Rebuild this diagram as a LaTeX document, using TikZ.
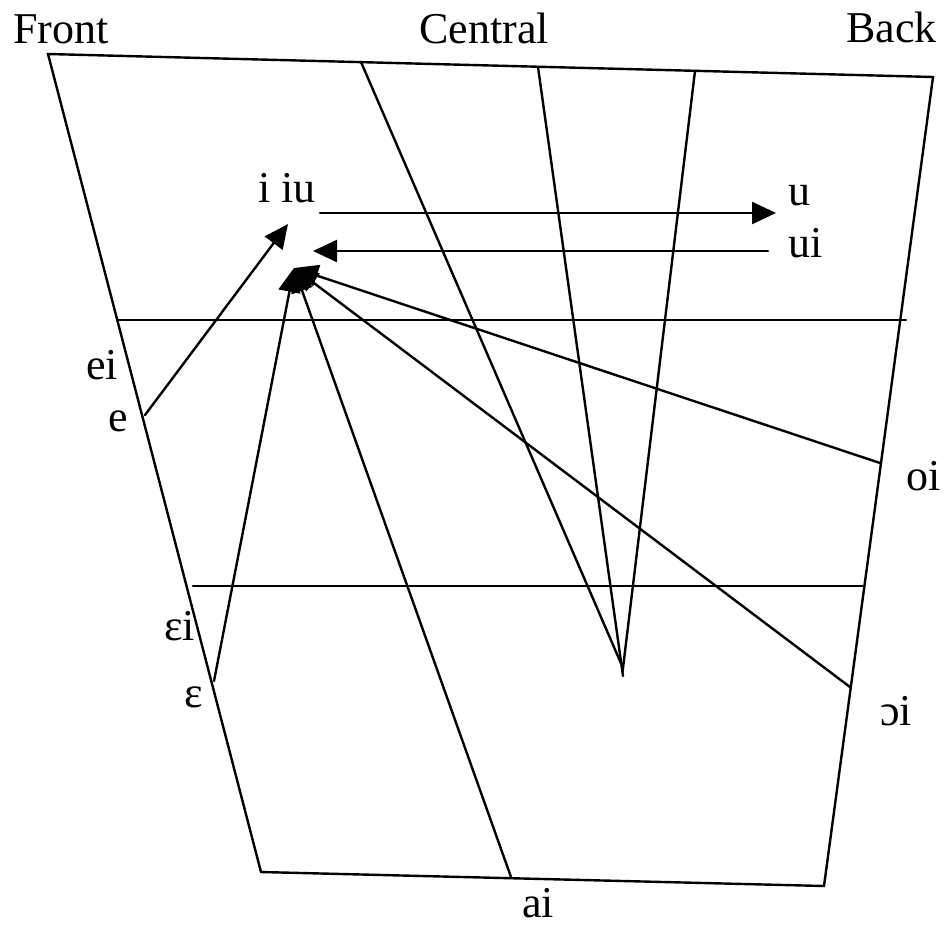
\documentclass[tikz,border=0pt]{standalone}
\usepackage{fontspec}
\setmainfont{Liberation Serif}
\usepackage{tikz}
\usetikzlibrary{arrows.meta}
\tikzset{
  lbl/.style={inner sep=0pt,font=\fontsize{44}{50}\selectfont},
  ln/.style={line width=2.4pt,line cap=round},
  fl/.style={ln,-{Triangle[length=24pt,width=22pt]}},
}
\begin{document}
\begin{tikzpicture}[x=1pt,y=-1pt]
  \useasboundingbox (0,0) rectangle (944,929);
  \coordinate (tl) at (48,54);   \coordinate (tr) at (933,77);
  \coordinate (br) at (824,886); \coordinate (bl) at (261,872);
  \coordinate (c1) at (361,62);  \coordinate (c2) at (538,67);
  \coordinate (c3) at (695,71);  \coordinate (v) at (623,668);
  \coordinate (v2) at (623,676);
  \coordinate (h1a) at (118,320); \coordinate (h1b) at (906,320);
  \coordinate (h2a) at (193,586); \coordinate (h2b) at (863,586);
  \coordinate (pe) at (145,415);  \coordinate (peps) at (214,681);
  \coordinate (poi) at (880,463); \coordinate (popi) at (850,687);
  \coordinate (pai) at (511,877); \coordinate (hub) at (294,268);
  \coordinate (etip) at (288,224);
  \coordinate (ua) at (320,213);  \coordinate (ub) at (776,213);
  \coordinate (uia) at (768,251); \coordinate (uib) at (313,251);

  \node[lbl,anchor=base west] (front) at (13,43) {Front};
  \node[lbl,anchor=base] (central) at (484,43) {Central};
  \node[lbl,anchor=base east] (back) at (937,42) {Back};
  \node[lbl,anchor=base west] (iiu) at (258,202) {i iu};
  \node[lbl,anchor=base west] (u) at (788,205) {u};
  \node[lbl,anchor=base west] (ui) at (788,257) {ui};
  \node[lbl,anchor=base east] (ei) at (118,379) {ei};
  \node[lbl,anchor=base east] (e) at (128,431) {e};
  \node[lbl,anchor=base east] (epsi) at (195,640) {εi};
  \node[lbl,anchor=base east] (eps) at (203,707) {ε};
  \node[lbl,anchor=base west] (oi) at (906,490) {oi};
  \node[lbl,anchor=base west] (opi) at (880,725) {ɔi};
  \node[lbl,anchor=base] (ai) at (538,917) {ai};

  \draw[ln] (tl) -- (tr) -- (br) -- (bl) -- cycle;
  \draw[ln] (c1) -- (v) -- (c3); \draw[ln] (c2) -- (v2);
  \draw[ln] (h1a) -- (h1b); \draw[ln] (h2a) -- (h2b);
  \draw[fl] (pe) -- (etip);
  \draw[fl] (ua) -- (ub); \draw[fl] (uia) -- (uib);
  \draw[fl] (peps) -- (hub); \draw[fl] (pai) -- (hub);
  \draw[fl] (poi) -- (hub); \draw[fl] (popi) -- (hub);
\end{tikzpicture}
\end{document}
